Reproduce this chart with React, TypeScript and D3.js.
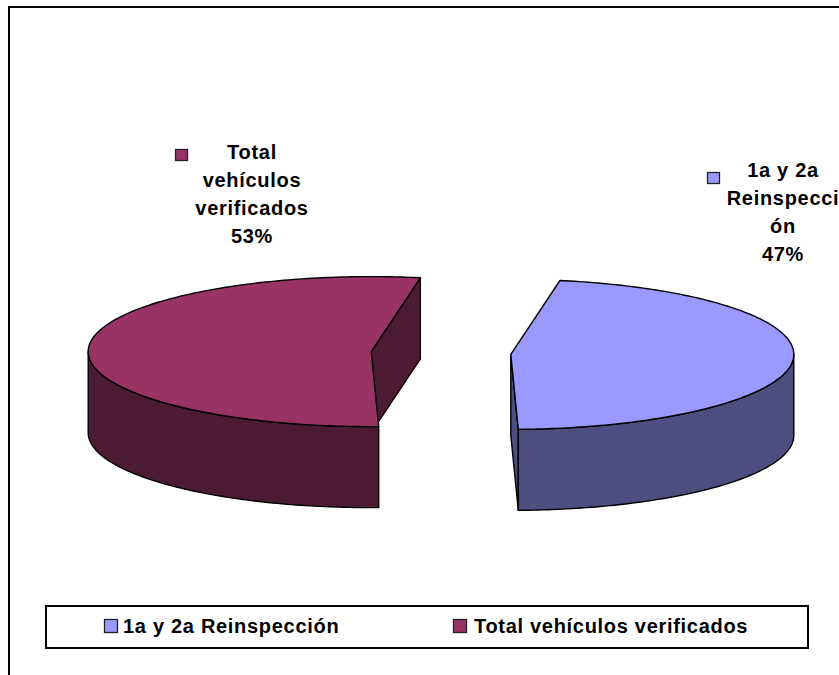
import React from "react";
import * as d3 from "d3";

const categories = ["1a y 2a Reinspección", "Total vehículos verificados"];
const values = [46.8, 53.2];
const topColors = ["#9999FF", "#993366"];
const sideColors = ["#4D4D80", "#4D1A33"];
const labelLines = [
  ["1a y 2a", "Reinspecci", "ón"],
  ["Total", "vehículos", "verificados"],
];

const W = 839;
const H = 675;
const FONT = "'Liberation Sans', Arial, Helvetica, sans-serif";

export default function App() {
  const cx = 441;
  const cy = 353;
  const rx = 283;
  const ry = 75;
  const depth = 81;
  const explode = 70;
  const rot = (10 * Math.PI) / 180;

  const pie = d3
    .pie<number>()
    .sort(null)
    .startAngle(rot)
    .endAngle(rot + 2 * Math.PI);
  const arcs = pie(values);
  const total = d3.sum(values);
  const pct = d3.format(".0%");
  const line = d3.line<[number, number]>();

  const sample = (
    ox: number,
    oy: number,
    a: number,
    b: number,
    dz: number
  ): [number, number][] => {
    const n = Math.max(2, Math.ceil((Math.abs(b - a) * 180) / Math.PI));
    return d3.range(n + 1).map((i) => {
      const t = a + ((b - a) * i) / n;
      return [ox + rx * Math.cos(t), oy + ry * Math.sin(t) + dz] as [number, number];
    });
  };

  const slices = arcs.map((a, i) => {
    const t0 = a.startAngle - Math.PI / 2;
    const t1 = a.endAngle - Math.PI / 2;
    const mid = (t0 + t1) / 2;
    const ox = cx + explode * Math.cos(mid);
    const oy = cy + explode * Math.sin(mid) * (ry / rx);

    const top = line([[ox, oy], ...sample(ox, oy, t0, t1, 0)]) + "Z";

    // visible front wall: intersection with [2kπ, 2kπ+π]
    const walls: string[] = [];
    for (let k = -1; k <= 2; k++) {
      const lo = Math.max(t0, 2 * k * Math.PI);
      const hi = Math.min(t1, 2 * k * Math.PI + Math.PI);
      if (hi > lo) {
        const upper = sample(ox, oy, lo, hi, 0);
        const lower = sample(ox, oy, hi, lo, depth);
        walls.push(line([...upper, ...lower]) + "Z");
      }
    }

    const faces: string[] = [];
    const addFace = (t: number, normal: number) => {
      if (Math.sin(normal) > 0) {
        const p: [number, number] = [ox + rx * Math.cos(t), oy + ry * Math.sin(t)];
        faces.push(
          line([
            [ox, oy],
            p,
            [p[0], p[1] + depth],
            [ox, oy + depth],
          ]) + "Z"
        );
      }
    };
    addFace(t0, t0 - Math.PI / 2);
    addFace(t1, t1 + Math.PI / 2);

    return { i, top, walls, faces };
  });

  const labelPos = [
    { x: 783, y: 177, sx: 707.5, sy: 172.5 },
    { x: 252, y: 159, sx: 175.5, sy: 149.5 },
  ];
  const lineH = 28;

  const legendItems = [
    { sx: 104.5, tx: 123 },
    { sx: 453.5, tx: 474 },
  ];

  return (
    <div style={{ position: "absolute", left: 0, top: 0 }}>
      <svg width={W} height={H} style={{ display: "block", background: "#fff" }}>
        <rect x={0} y={0} width={W} height={H} fill="#fff" />
        <rect x={9} y={7} width={1000} height={800} fill="none" stroke="#000" strokeWidth={2} />

        {slices.map((s) => (
          <g key={s.i} stroke="#000" strokeWidth={1.4} strokeLinejoin="round">
            {s.faces.map((d, j) => (
              <path key={"f" + j} d={d} fill={sideColors[s.i]} />
            ))}
            {s.walls.map((d, j) => (
              <path key={"w" + j} d={d} fill={sideColors[s.i]} />
            ))}
            <path d={s.top} fill={topColors[s.i]} />
          </g>
        ))}

        {arcs.map((a, i) => {
          const lp = labelPos[i];
          const lines = [...labelLines[i], pct(a.data / total)];
          return (
            <g key={"lab" + i}>
              <rect
                x={lp.sx}
                y={lp.sy}
                width={12}
                height={11}
                fill={topColors[i]}
                stroke="#222"
                strokeWidth={1.3}
              />
              <text
                fontFamily={FONT}
                fontWeight="bold"
                fontSize={20}
                letterSpacing={0.7}
                textAnchor="middle"
                fill="#000"
              >
                {lines.map((t, j) => (
                  <tspan key={j} x={lp.x} y={lp.y + j * lineH}>
                    {t}
                  </tspan>
                ))}
              </text>
            </g>
          );
        })}

        <rect x={46} y={606} width={762} height={42} fill="#fff" stroke="#000" strokeWidth={2} />
        {categories.map((c, i) => (
          <g key={"leg" + i}>
            <rect
              x={legendItems[i].sx}
              y={619.5}
              width={13}
              height={13}
              fill={topColors[i]}
              stroke="#222"
              strokeWidth={1.3}
            />
            <text
              x={legendItems[i].tx}
              y={633}
              fontFamily={FONT}
              fontWeight="bold"
              fontSize={20}
              letterSpacing={0.7}
              fill="#000"
            >
              {c}
            </text>
          </g>
        ))}
      </svg>
    </div>
  );
}
